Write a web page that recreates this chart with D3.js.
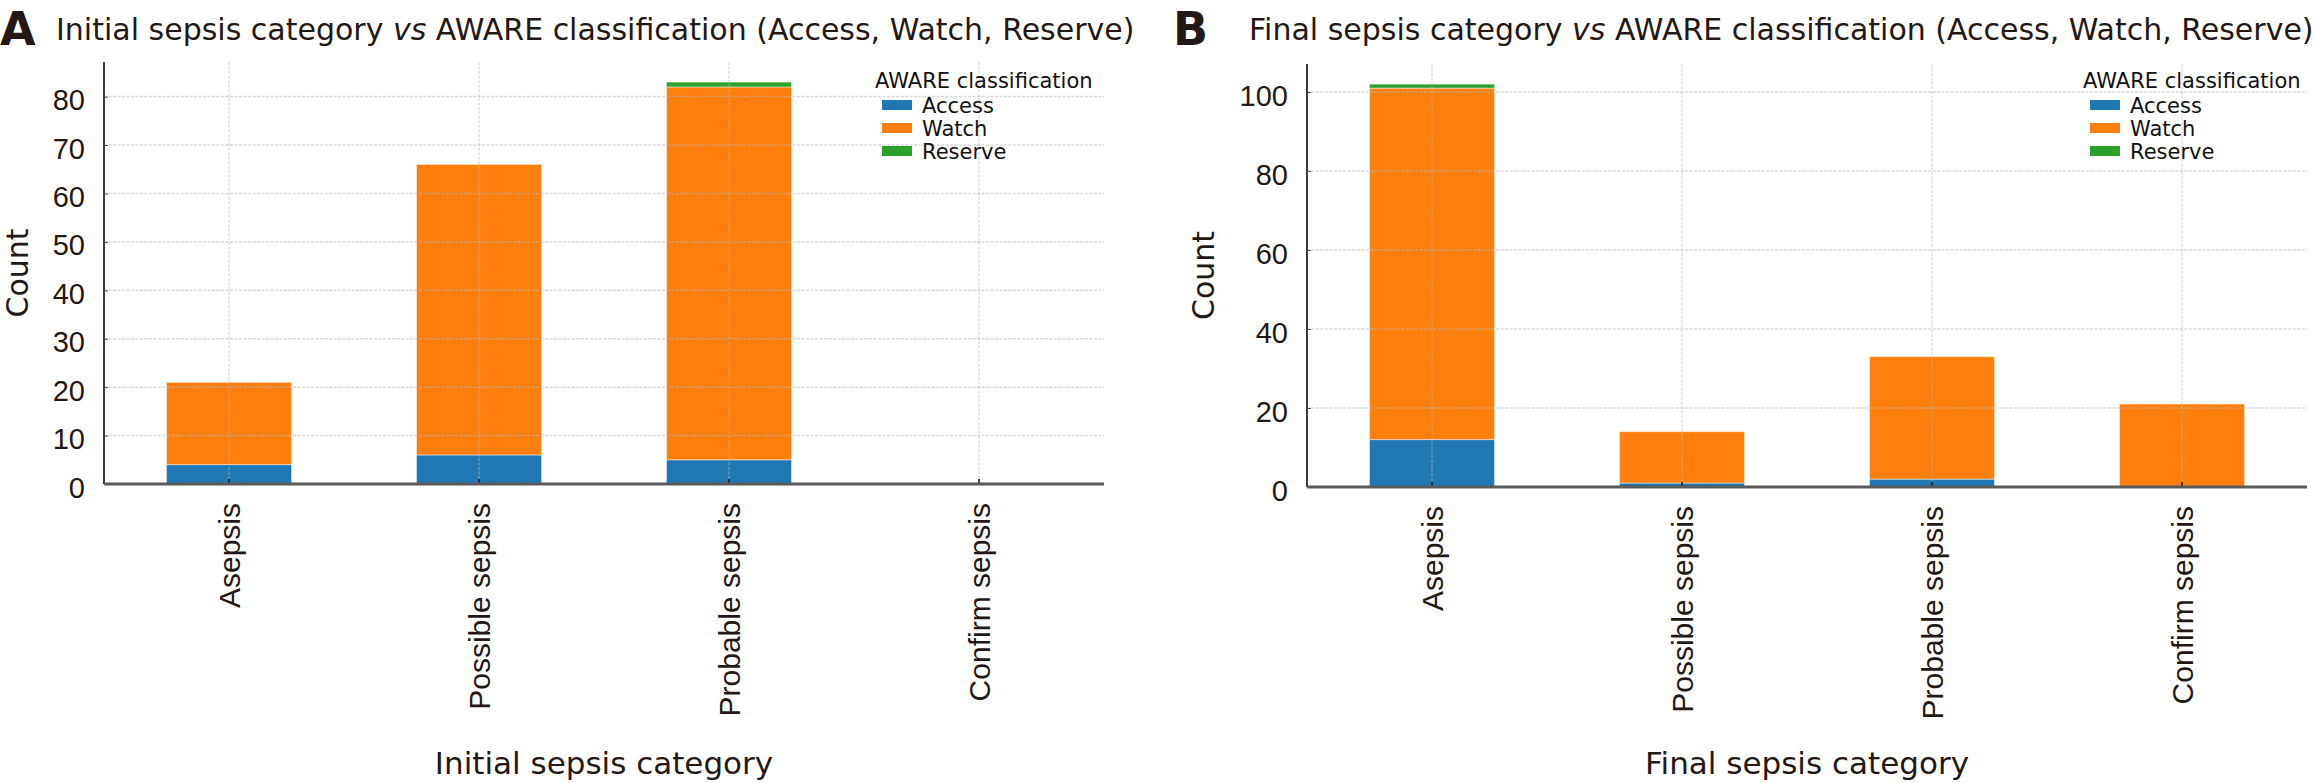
<!DOCTYPE html>
<html>
<head>
<meta charset="utf-8">
<script src="https://cdn.jsdelivr.net/npm/d3@7"></script>
<style>
  body { margin: 0; background: #fff; }
  svg { display: block; font-family: "DejaVu Sans", sans-serif; }
</style>
</head>
<body>
<svg width="2314" height="783"></svg>
<script>
// Categories and counts per AWARE class
let categories = ["Asepsis", "Possible sepsis", "Probable sepsis", "Confirm sepsis"];
let classes = ["Access", "Watch", "Reserve"];
let colors = ["#1f77b4", "#ff7f0e", "#2ca02c"];

let initialAccess = [4, 6, 5, 0];
let initialWatch = [17, 60, 77, 0];
let initialReserve = [0, 0, 1, 0];

let finalAccess = [12, 1, 2, 0];
let finalWatch = [89, 13, 31, 21];
let finalReserve = [1, 0, 0, 0];

let initialTicks = [0, 10, 20, 30, 40, 50, 60, 70, 80];
let finalTicks = [0, 20, 40, 60, 80, 100];

let svg = d3.select("svg");

function drawPanel(p) {
    let g = svg.append("g");

    // stack the three series
    let rows = categories.map(function(c, i) {
        return { cat: c, Access: p.series[0][i], Watch: p.series[1][i], Reserve: p.series[2][i] };
    });
    let stacked = d3.stack().keys(classes)(rows);
    let ymax = d3.max(rows, function(d) { return d.Access + d.Watch + d.Reserve; }) * 1.05;

    let x = d3.scaleBand()
        .domain(categories)
        .range([p.x0, p.x1])
        .paddingInner(0.5)
        .paddingOuter(0.25);
    let y = d3.scaleLinear()
        .domain([0, ymax])
        .range([p.y1, p.y0]);

    // bars
    g.selectAll("g.layer")
        .data(stacked)
        .enter().append("g")
        .attr("class", "layer")
        .attr("fill", function(d, i) { return colors[i]; })
        .selectAll("rect")
        .data(function(d) { return d.filter(function(s) { return s[1] > s[0]; }); })
        .enter().append("rect")
        .attr("x", function(d) { return x(d.data.cat); })
        .attr("width", x.bandwidth())
        .attr("y", function(d) { return y(d[1]); })
        .attr("height", function(d) { return y(d[0]) - y(d[1]); })
        .style("stroke", "#fff")
        .style("stroke-opacity", 0.45)
        .style("stroke-width", 1);

    // grid, drawn over the bars
    g.selectAll("line.hgrid")
        .data(p.ticks.filter(function(t) { return t > 0; }))
        .enter().append("line")
        .attr("x1", p.x0).attr("x2", p.x1)
        .attr("y1", function(d) { return y(d); })
        .attr("y2", function(d) { return y(d); })
        .style("stroke", "#b8b8b8")
        .style("stroke-opacity", 0.55)
        .style("stroke-width", 1.5)
        .style("stroke-dasharray", "3,1.5");
    g.selectAll("line.vgrid")
        .data(categories)
        .enter().append("line")
        .attr("x1", function(d) { return x(d) + x.bandwidth() / 2; })
        .attr("x2", function(d) { return x(d) + x.bandwidth() / 2; })
        .attr("y1", p.y0).attr("y2", p.y1)
        .style("stroke", "#b8b8b8")
        .style("stroke-opacity", 0.45)
        .style("stroke-width", 1.5)
        .style("stroke-dasharray", "3,1.5");

    // y axis
    let yAxis = d3.axisLeft(y).tickValues(p.ticks).tickSize(-4).tickPadding(19);
    let ya = g.append("g")
        .attr("transform", "translate(" + p.x0 + ",0)")
        .call(yAxis);
    ya.select(".domain").remove();
    ya.selectAll(".tick line").style("stroke", "#555");
    ya.selectAll(".tick text")
        .style("font-size", "29px")
        .style("fill", "#231815")
        .attr("dy", "0.45em");
    g.append("line")
        .attr("x1", p.x0).attr("x2", p.x0)
        .attr("y1", p.y0).attr("y2", p.y1)
        .style("stroke", "#3a3a3a")
        .style("stroke-width", 2);

    // x axis
    let xAxis = d3.axisBottom(x).tickSize(-5).tickPadding(0);
    let xa = g.append("g")
        .attr("transform", "translate(0," + p.y1 + ")")
        .call(xAxis);
    xa.select(".domain").remove();
    xa.selectAll(".tick line").style("stroke", "#111").style("stroke-width", 1.5);
    xa.selectAll(".tick text")
        .attr("transform", "translate(0,19) rotate(-90)")
        .attr("x", 0).attr("y", 0)
        .attr("dy", "0.35em")
        .style("text-anchor", "end")
        .style("font-size", "30px")
        .style("fill", "#231815");
    g.append("line")
        .attr("x1", p.x0).attr("x2", p.x1)
        .attr("y1", p.y1).attr("y2", p.y1)
        .style("stroke", "#5a5a5a")
        .style("stroke-width", 3);

    // axis titles
    g.append("text")
        .attr("transform", "translate(" + p.countX + "," + ((p.y0 + p.y1) / 2) + ") rotate(-90)")
        .style("text-anchor", "middle")
        .style("font-size", "30px")
        .style("fill", "#231815")
        .text("Count");
    g.append("text")
        .attr("x", (p.x0 + p.x1) / 2)
        .attr("y", 774)
        .style("text-anchor", "middle")
        .style("font-size", "31px")
        .style("fill", "#231815")
        .text(p.xTitle);

    // panel letter and title
    g.append("text")
        .attr("x", p.letterX).attr("y", 45)
        .style("font-size", "46px")
        .style("font-weight", "bold")
        .style("fill", "#231815")
        .text(p.letter);
    let t = g.append("text")
        .attr("x", p.titleX).attr("y", 40)
        .style("font-size", "30px")
        .style("fill", "#231815");
    t.append("tspan").text(p.titleStart + " ");
    t.append("tspan").style("font-style", "italic").text("vs");
    t.append("tspan").text(" AWARE classification (Access, Watch, Reserve)");

    // legend
    let lg = g.append("g").attr("transform", "translate(" + p.legendX + ",0)");
    lg.append("text")
        .attr("x", 0).attr("y", 88)
        .style("font-size", "21px")
        .style("fill", "#111")
        .text("AWARE classification");
    let item = lg.selectAll("g.item")
        .data(classes)
        .enter().append("g")
        .attr("transform", function(d, i) { return "translate(0," + (i * 23) + ")"; });
    item.append("rect")
        .attr("x", 7).attr("y", 100)
        .attr("width", 30).attr("height", 10)
        .attr("fill", function(d, i) { return colors[i]; });
    item.append("text")
        .attr("x", 47).attr("y", 113)
        .style("font-size", "21px")
        .style("fill", "#111")
        .text(function(d) { return d; });
}

drawPanel({
    series: [initialAccess, initialWatch, initialReserve],
    ticks: initialTicks,
    x0: 104, x1: 1104, y0: 62, y1: 484,
    countX: 28, xTitle: "Initial sepsis category",
    letter: "A", letterX: 0, titleX: 56, titleStart: "Initial sepsis category",
    legendX: 875
});

drawPanel({
    series: [finalAccess, finalWatch, finalReserve],
    ticks: finalTicks,
    x0: 1307, x1: 2307, y0: 64, y1: 487,
    countX: 1214, xTitle: "Final sepsis category",
    letter: "B", letterX: 1173, titleX: 1249, titleStart: "Final sepsis category",
    legendX: 2083
});
</script>
</body>
</html>
